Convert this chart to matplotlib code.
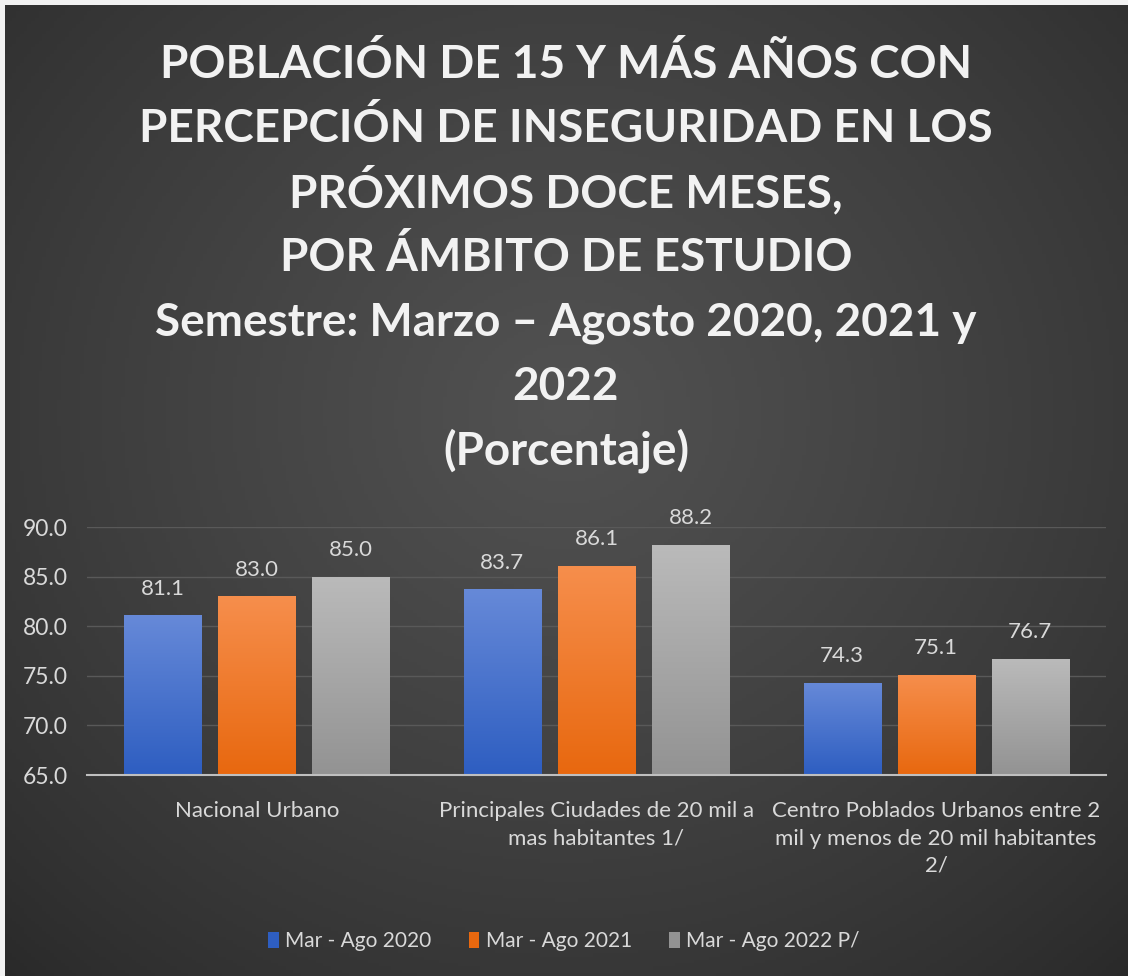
import numpy as np
import matplotlib
matplotlib.use("Agg")
import matplotlib.pyplot as plt
from matplotlib.patches import Patch

categories = ["Nacional Urbano",
              "Principales Ciudades de 20 mil a\nmas habitantes 1/",
              "Centro Poblados Urbanos entre 2\nmil y menos de 20 mil habitantes\n2/"]
series_names = ["Mar - Ago 2020", "Mar - Ago 2021", "Mar - Ago 2022 P/"]
v2020 = [81.1, 83.7, 74.3]
v2021 = [83.0, 86.1, 75.1]
v2022 = [85.0, 88.2, 76.7]
yticks = [65.0, 70.0, 75.0, 80.0, 85.0, 90.0]
title_lines = ["POBLACIÓN DE 15 Y MÁS AÑOS CON",
               "PERCEPCIÓN DE INSEGURIDAD EN LOS",
               "PRÓXIMOS DOCE MESES,",
               "POR ÁMBITO DE ESTUDIO",
               "Semestre: Marzo – Agosto 2020, 2021 y",
               "2022",
               "(Porcentaje)"]

FONT = "Lato"
W, H = 1128, 976
fig = plt.figure(figsize=(W/100, H/100), dpi=100, facecolor="#f2f2f2")

# background radial gradient panel
bg = fig.add_axes([5/W, 0, 1-5/W, 1-5/H], zorder=0)
yy, xx = np.mgrid[0:1:300j, 0:1:300j]
r = np.sqrt(((xx-0.5)/0.75)**2 + ((yy-0.42)/0.8)**2)
vals = np.clip(1 - r, 0, 1)
c_in = np.array([0x52, 0x52, 0x52])/255
c_out = np.array([0x28, 0x28, 0x28])/255
img = c_out[None, None, :] + (c_in-c_out)[None, None, :]*vals[..., None]**0.8
bg.imshow(img, extent=[0, 1, 0, 1], aspect="auto", origin="upper")
bg.set_axis_off()

ax = fig.add_axes([87/W, 1-775/H, (1106-87)/W, (775-527)/H], zorder=1)
ax.set_facecolor("none")

x = np.arange(len(categories))
bw = 0.227
gap = 0.05
offsets = [-(bw+gap), 0, bw+gap]
grads = [("#6689d8", "#2e5ec1"), ("#f68e4c", "#e8680f"), ("#bababa", "#939393")]
all_vals = [v2020, v2021, v2022]
ymin = 65.0
for i, (vals_s, off, (ctop, cbot)) in enumerate(zip(all_vals, offsets, grads)):
    bars = ax.bar(x + off, np.array(vals_s) - ymin, bw, bottom=ymin,
                  color=cbot, zorder=2, label=series_names[i])
    cmap = matplotlib.colors.LinearSegmentedColormap.from_list("g", [cbot, ctop])
    for b, v in zip(bars, vals_s):
        gx0 = b.get_x(); gx1 = gx0 + b.get_width()
        grad = np.linspace(0, 1, 100).reshape(-1, 1)
        im = ax.imshow(grad, extent=[gx0, gx1, ymin, v], origin="lower",
                       aspect="auto", cmap=cmap, zorder=2.5)
        im.set_clip_path(b)
        ax.annotate(f"{v:.1f}", (b.get_x() + b.get_width()/2, v),
                    xytext=(0, 12), textcoords="offset points",
                    ha="center", va="bottom", color="#d9d9d9", fontsize=16,
                    family=FONT, annotation_clip=False)

ax.set_xlim(-0.5, 2.5)
ax.set_ylim(65, 90)
ax.set_yticks(yticks)
ax.set_yticklabels([f"{t:.1f}" for t in yticks], color="#d9d9d9",
                   fontsize=16.5, family=FONT)
ax.set_xticks(x)
ax.set_xticklabels(categories, color="#d9d9d9", fontsize=16, family=FONT,
                   linespacing=1.45, va="top")
ax.tick_params(axis="y", length=0, pad=14)
ax.tick_params(axis="x", length=0, pad=19)
for s in ["top", "right", "left"]:
    ax.spines[s].set_visible(False)
ax.spines["bottom"].set_color("#bfbfbf")
ax.spines["bottom"].set_linewidth(1.5)
ax.spines["bottom"].set_zorder(3)
ax.yaxis.grid(True, color="#595959", linewidth=1)
ax.set_axisbelow(True)

handles = [Patch(facecolor=g[1]) for g in grads]
leg = fig.legend(handles, series_names, loc="center", bbox_to_anchor=(0.5, 1-941/H),
                 ncol=3, frameon=False, prop={"family": FONT, "size": 15},
                 labelcolor="#d9d9d9", handlelength=0.5, handleheight=0.8,
                 handletextpad=0.3, columnspacing=1.8)

baselines = [78, 142.5, 207, 271.5, 336, 400.5, 465]
for line, yp in zip(title_lines, baselines):
    fig.text(0.5 + 2/W, 1-yp/H, line, ha="center", va="baseline", color="#f2f2f2",
             fontsize=33, fontweight="bold", family=FONT, zorder=5)

fig.savefig("out.png", dpi=100, facecolor=fig.get_facecolor())
